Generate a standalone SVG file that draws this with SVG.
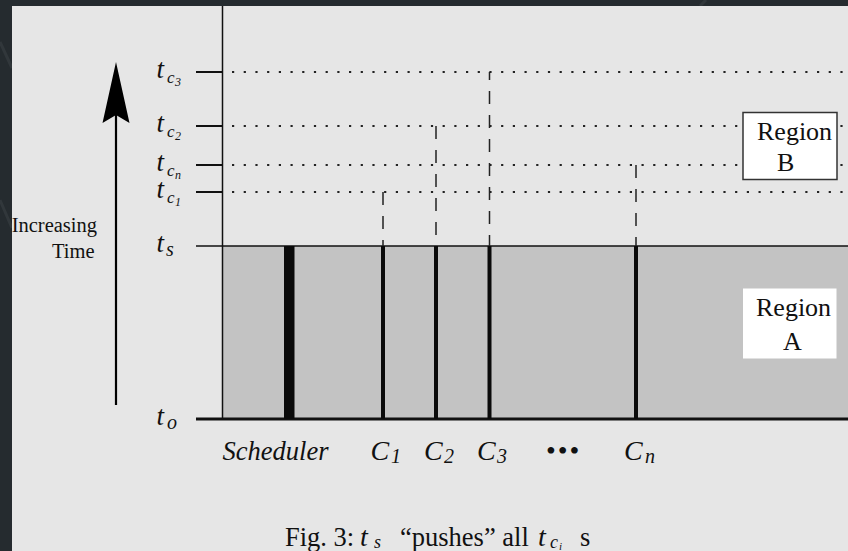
<svg xmlns="http://www.w3.org/2000/svg" width="848" height="551" viewBox="0 0 848 551">
<style>
text{font-family:"Liberation Serif","Times New Roman",serif;fill:#111}
.it{font-style:italic}
.dot{stroke:#222;stroke-width:2;stroke-dasharray:2.2 9.5;fill:none}
.dash{stroke:#222;stroke-width:1.5;stroke-dasharray:13 11;fill:none}
.tick{stroke:#111;stroke-width:2}
.bar{fill:#0a0a0a}
</style>
<rect x="0" y="0" width="848" height="551" fill="#252b2f"/>
<g id="bg-streaks" stroke="#3a4044" stroke-width="3" fill="none" opacity="0.6">
<line x1="0" y1="42" x2="12" y2="68"/>
<line x1="0" y1="200" x2="12" y2="228"/>
<line x1="700" y1="6" x2="706" y2="0"/>
</g>
<rect id="panel" x="12" y="6" width="836" height="545" fill="#e6e6e6"/>

<g id="regionA">
<rect x="222" y="246" width="626" height="173" fill="#c3c3c3"/>
<rect x="743" y="288.5" width="93.5" height="70" fill="#ffffff"/>
<text x="756" y="316" font-size="26">Region</text>
<text x="783" y="350" font-size="26">A</text>
</g>

<g id="timelines">
<line class="dot" x1="232" y1="72" x2="848" y2="72"/>
<line class="dot" x1="232" y1="126" x2="848" y2="126"/>
<line class="dot" x1="232" y1="165" x2="848" y2="165"/>
<line class="dot" x1="232" y1="192" x2="848" y2="192"/>
<line class="tick" x1="196" y1="72" x2="222" y2="72"/>
<line class="tick" x1="196" y1="126" x2="222" y2="126"/>
<line class="tick" x1="196" y1="165" x2="222" y2="165"/>
<line class="tick" x1="196" y1="192" x2="222" y2="192"/>
<line x1="196" y1="246" x2="848" y2="246" stroke="#111" stroke-width="1.6"/>
<line x1="196" y1="419" x2="848" y2="419" stroke="#111" stroke-width="3"/>
<line x1="222.5" y1="6" x2="222.5" y2="419" stroke="#111" stroke-width="1.5"/>
</g>

<g id="regionB">
<rect x="743" y="112.5" width="94" height="67" fill="#ffffff" stroke="#333" stroke-width="1.5"/>
<text x="757" y="140" font-size="26">Region</text>
<text x="777" y="171" font-size="26">B</text>
</g>

<g id="connectors">
<line class="dash" x1="383" y1="192" x2="383" y2="246"/>
<line class="dash" x1="436" y1="126" x2="436" y2="246"/>
<line class="dash" x1="489.5" y1="72" x2="489.5" y2="246" stroke-dashoffset="5"/>
<line class="dash" x1="636" y1="165" x2="636" y2="246"/>
</g>

<g id="processes">
<rect id="scheduler-bar" class="bar" x="284" y="246" width="10.5" height="173"/>
<rect id="c1-bar" class="bar" x="381" y="246" width="4" height="173"/>
<rect id="c2-bar" class="bar" x="434" y="246" width="4" height="173"/>
<rect id="c3-bar" class="bar" x="487.5" y="246" width="4" height="173"/>
<rect id="cn-bar" class="bar" x="634" y="246" width="4" height="173"/>
</g>

<g id="time-axis">
<line x1="116" y1="405" x2="116" y2="112" stroke="#000" stroke-width="2.2"/>
<polygon points="116,62 129.5,123 116,115 102.5,123" fill="#000"/>
<text x="97" y="232" font-size="20.5" text-anchor="end">Increasing</text>
<text x="94.5" y="258" font-size="20.5" text-anchor="end">Time</text>
</g>

<g id="time-labels" class="it">
<text x="156.5" y="78" font-size="27" class="it">t</text>
<text x="167" y="83" font-size="17" class="it">c</text>
<text x="175" y="86" font-size="12" class="it">3</text>

<text x="156.5" y="132" font-size="27" class="it">t</text>
<text x="167" y="137" font-size="17" class="it">c</text>
<text x="175" y="140" font-size="12" class="it">2</text>

<text x="156.5" y="171" font-size="27" class="it">t</text>
<text x="167" y="176" font-size="17" class="it">c</text>
<text x="175" y="179" font-size="12" class="it">n</text>

<text x="156.5" y="198" font-size="27" class="it">t</text>
<text x="167" y="203" font-size="17" class="it">c</text>
<text x="175" y="206" font-size="12" class="it">1</text>

<text x="156.5" y="252" font-size="27" class="it">t</text>
<text x="166" y="256" font-size="20" class="it">s</text>

<text x="156.5" y="425" font-size="27" class="it">t</text>
<text x="167" y="429" font-size="20" class="it">o</text>
</g>

<g id="process-labels">
<text x="222.5" y="460" font-size="26.5" class="it">Scheduler</text>
<text x="370.5" y="460" font-size="28" class="it">C</text>
<text x="391" y="463" font-size="20" class="it">1</text>
<text x="424" y="460" font-size="28" class="it">C</text>
<text x="444" y="463" font-size="20" class="it">2</text>
<text x="477" y="460" font-size="28" class="it">C</text>
<text x="497" y="463" font-size="20" class="it">3</text>
<text x="546" y="460" font-size="28" letter-spacing="2">•••</text>
<text x="624" y="460" font-size="28" class="it">C</text>
<text x="645" y="463" font-size="20" class="it">n</text>
</g>

<g id="caption">
<text y="546" font-size="26.5"><tspan x="285">Fig. 3:</tspan><tspan x="360" class="it" font-size="28">t</tspan><tspan x="374" y="548" font-size="18" class="it">s</tspan><tspan x="400" y="546">“pushes” all</tspan><tspan x="538" class="it" font-size="28">t</tspan><tspan x="550" y="548" font-size="18" class="it">c</tspan><tspan x="559" y="549.5" font-size="11" class="it">i</tspan><tspan x="580" y="546">s</tspan></text>
</g>
</svg>
